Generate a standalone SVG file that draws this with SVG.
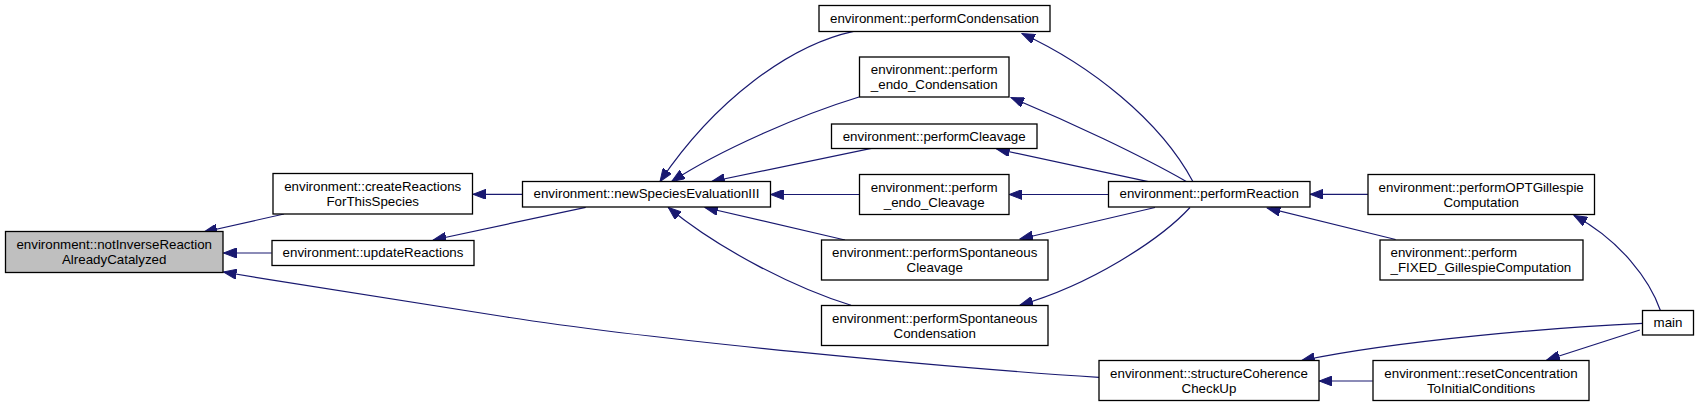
<svg xmlns="http://www.w3.org/2000/svg" width="1699" height="407" viewBox="0 0 1699 407">
<style>
.n rect{fill:#ffffff;stroke:#000000;stroke-width:1.3}
.n.root rect{fill:#bfbfbf}
.n text{font-family:"Liberation Sans",Arial,Helvetica,sans-serif;font-size:13.33px;fill:#000000;text-anchor:middle}
.n text.l{text-anchor:start}
.e path{fill:none;stroke:#191970;stroke-width:1.2;marker-end:url(#ah)}
</style>
<defs>
<marker id="ah" markerUnits="userSpaceOnUse" markerWidth="14" markerHeight="10" viewBox="0 0 14 10" refX="13" refY="5" orient="auto">
<path d="M0,0 L13,5 L0,10 z" fill="#191970" stroke="#191970" stroke-width="1"/>
</marker>
</defs>
<rect x="0" y="0" width="1699" height="407" fill="#ffffff"/>
<g id="edges" class="e">
<path d="M284,214 L204,232"/>
<path d="M271.7,253 L223.5,253"/>
<path d="M1099,377.3 C950,368 650,340 500,316 C350,292 300,285 223.5,272"/>
<path d="M522.5,194.3 L473,194.3"/>
<path d="M585.7,207.3 L433.3,240"/>
<path d="M853.6,31.3 C790,45 715,100 660,181.5"/>
<path d="M859,97 C800,115 720,150 671.7,181.5"/>
<path d="M871.4,148.3 L711.7,181.5"/>
<path d="M859.6,194.5 L770.6,194.5"/>
<path d="M845,240 L705,207.5"/>
<path d="M851,305.3 C795,288 720,250 668.3,207.5"/>
<path d="M1193,181.7 C1160,120 1090,65 1022,33.5"/>
<path d="M1186.7,181.7 C1140,155 1070,122 1011,97.5"/>
<path d="M1148.3,181.7 L996.7,149"/>
<path d="M1108.8,194.5 L1009.2,194.5"/>
<path d="M1155,207.5 L1020,239"/>
<path d="M1190,207.5 C1160,240 1090,285 1020,305"/>
<path d="M1367.9,194.3 L1310.2,194.3"/>
<path d="M1395.6,239.5 L1267.3,208"/>
<path d="M1660.5,310.7 C1650,280 1620,240 1574,215.5"/>
<path d="M1642.7,323.3 C1560,327 1400,340 1301.7,360.5"/>
<path d="M1639.8,330 L1546.7,360"/>
<path d="M1372.8,381 L1319.2,381"/>
</g>
<g id="n_notInverse" class="n root"><rect x="5.5" y="231.5" width="217.5" height="41"/><text x="114.2" y="249.3">environment::notInverseReaction</text><text x="114.2" y="264.2">AlreadyCatalyzed</text></g>
<g id="n_createReactions" class="n"><rect x="273" y="173.5" width="199.5" height="40.5"/><text x="372.7" y="191">environment::createReactions</text><text x="372.7" y="206">ForThisSpecies</text></g>
<g id="n_updateReactions" class="n"><rect x="272" y="240.5" width="202" height="25"/><text x="373" y="257.2">environment::updateReactions</text></g>
<g id="n_newSpecies" class="n"><rect x="522.5" y="181.5" width="248" height="25.5"/><text x="646.5" y="198.4">environment::newSpeciesEvaluationIII</text></g>
<g id="n_performCondensation" class="n"><rect x="819" y="5.5" width="231" height="26"/><text x="934.5" y="22.7">environment::performCondensation</text></g>
<g id="n_endoCondensation" class="n"><rect x="859.5" y="57" width="149.5" height="40"/><text x="934.2" y="74">environment::perform</text><text x="934.2" y="89">_endo_Condensation</text></g>
<g id="n_performCleavage" class="n"><rect x="831.5" y="124" width="205.5" height="24.5"/><text x="934.2" y="140.5">environment::performCleavage</text></g>
<g id="n_endoCleavage" class="n"><rect x="859.5" y="174.5" width="149.5" height="40"/><text x="934.2" y="191.5">environment::perform</text><text x="934.2" y="206.5">_endo_Cleavage</text></g>
<g id="n_spontCleavage" class="n"><rect x="821.5" y="240" width="226.5" height="40"/><text x="934.7" y="257">environment::performSpontaneous</text><text x="934.7" y="272">Cleavage</text></g>
<g id="n_spontCondensation" class="n"><rect x="821.5" y="305.5" width="226.5" height="40"/><text x="934.7" y="322.5">environment::performSpontaneous</text><text x="934.7" y="337.5">Condensation</text></g>
<g id="n_performReaction" class="n"><rect x="1108.5" y="181.5" width="201.5" height="25.5"/><text x="1209.2" y="198.4">environment::performReaction</text></g>
<g id="n_OPT" class="n"><rect x="1368" y="174.5" width="226.5" height="40"/><text x="1481.2" y="191.5">environment::performOPTGillespie</text><text x="1481.2" y="206.5">Computation</text></g>
<g id="n_FIXED" class="n"><rect x="1380" y="240" width="203" height="40"/><text class="l" x="1390.5" y="257">environment::perform</text><text class="l" x="1390.5" y="272">_FIXED_GillespieComputation</text></g>
<g id="n_main" class="n"><rect x="1642.5" y="310.5" width="51" height="24.5"/><text x="1668" y="327">main</text></g>
<g id="n_structure" class="n"><rect x="1099" y="360.5" width="220" height="40"/><text x="1209" y="377.5">environment::structureCoherence</text><text x="1209" y="392.5">CheckUp</text></g>
<g id="n_reset" class="n"><rect x="1373" y="360.5" width="216" height="40"/><text x="1481" y="377.5">environment::resetConcentration</text><text x="1481" y="392.5">ToInitialConditions</text></g>
</svg>
